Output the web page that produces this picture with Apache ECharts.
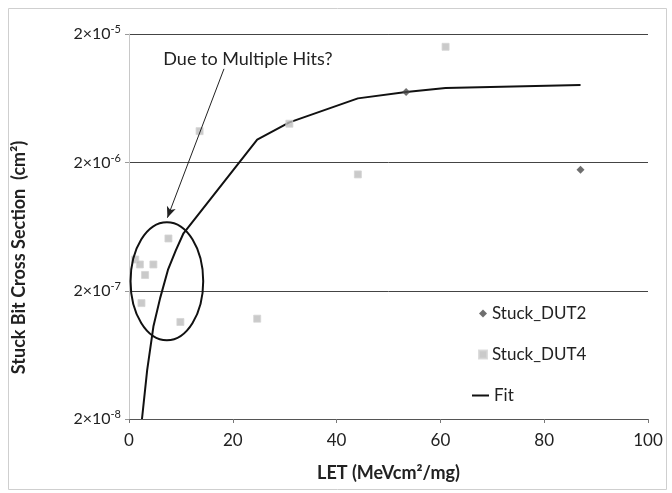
<!DOCTYPE html>
<html>
<head>
<meta charset="utf-8">
<script src="https://cdn.jsdelivr.net/npm/echarts@6/dist/echarts.min.js"></script>
<style>
  html, body { margin: 0; padding: 0; background: #fff; }
  #chart { width: 672px; height: 493px; }
</style>
</head>
<body>
<div id="chart"></div>
<script>
// LET values (MeV·cm²/mg) and stuck-bit cross sections (cm²)
const dut2Let = [53.4, 87.0];
const dut2Sigma = [7.06e-6, 1.75e-6];

const dut4Let = [61.0, 30.9, 44.1, 24.7, 13.6, 7.6, 1.2, 2.1, 4.7, 3.1, 2.4, 9.9];
const dut4Sigma = [1.59e-5, 4.0e-6, 1.61e-6, 1.21e-7, 3.5e-6, 5.1e-7, 3.5e-7, 3.2e-7, 3.2e-7, 2.65e-7, 1.6e-7, 1.14e-7];

const fitLet = [2.5, 3.5, 4.7, 6.0, 7.5, 9.0, 10.5, 24.7, 30.9, 44.1, 53.4, 61.0, 87.0];
const fitSigma = [2.0e-8, 4.8e-8, 1.05e-7, 1.75e-7, 2.9e-7, 4.1e-7, 5.6e-7, 3.0e-6, 4.1e-6, 6.3e-6, 7.06e-6, 7.6e-6, 8.0e-6];

const xTicks = [0, 20, 40, 60, 80, 100];
const yTicks = [2e-8, 2e-7, 2e-6, 2e-5];

// annotation: cluster ellipse and the arrow pointing at it (data coordinates)
const clusterCenter = [7.3, 2.37e-7];
const clusterHalfWidth = 7.0;        // LET units
const clusterHalfHeightDecades = 0.46;
const arrowFrom = [18.3, 1.07e-5];
const arrowTo = [7.4, 7.4e-7];
const noteText = 'Due to Multiple Hits?';

const FONT = 'Lato, "Open Sans", sans-serif';
const legendText = { fontFamily: FONT, fontSize: 17, color: '#222' };

const zip = (xs, ys) => xs.map((x, i) => [x, ys[i]]);

const chart = echarts.init(document.getElementById('chart'), null, { renderer: 'canvas' });

const option = {
  animation: false,
  backgroundColor: '#fff',
  grid: { left: 129, top: 34, right: 24, bottom: 74 },
  legend: [
    {
      // marker series
      orient: 'vertical',
      left: 478,
      top: 305,
      padding: 0,
      itemGap: 24,
      itemWidth: 8,
      itemHeight: 8,
      selectedMode: false,
      textStyle: legendText,
      data: [
        { name: 'Stuck_DUT2', icon: 'diamond' },
        { name: 'Stuck_DUT4', icon: 'rect' }
      ]
    },
    {
      // fitted curve
      orient: 'vertical',
      left: 472,
      top: 387,
      padding: 0,
      itemWidth: 17,
      itemHeight: 2,
      selectedMode: false,
      textStyle: legendText,
      data: [{ name: 'Fit', icon: 'rect', itemStyle: { color: '#111' } }]
    }
  ],
  xAxis: {
    type: 'value',
    min: xTicks[0],
    max: xTicks[xTicks.length - 1],
    interval: xTicks[1] - xTicks[0],
    name: 'LET (MeVcm²/mg)',
    nameLocation: 'middle',
    nameGap: 45,
    nameTextStyle: { fontFamily: FONT, fontSize: 18, fontWeight: 'bold', color: '#222' },
    axisLine: { show: true, lineStyle: { color: '#555', width: 1 } },
    axisTick: { show: true, length: 4, lineStyle: { color: '#777' } },
    axisLabel: { fontFamily: FONT, fontSize: 17, color: '#222', margin: 13 },
    splitLine: { show: false }
  },
  yAxis: {
    type: 'log',
    logBase: 10,
    min: yTicks[0],
    max: yTicks[yTicks.length - 1],
    interval: 1,
    name: 'Stuck Bit Cross Section  (cm²)',
    nameLocation: 'middle',
    nameGap: 101,
    nameTextStyle: { fontFamily: FONT, fontSize: 18, fontWeight: 'bold', color: '#222', padding: [0, 62, 0, 0] },
    axisLine: { show: true, lineStyle: { color: '#c8c8c8', width: 1 } },
    axisTick: { show: true, length: 4, lineStyle: { color: '#999' } },
    axisLabel: {
      margin: 8,
      formatter: function (v) {
        const exp = Math.round(Math.log10(v / 2));
        return '{b|2×10}{s|' + exp + '}';
      },
      rich: {
        b: { fontFamily: FONT, fontSize: 16, color: '#222', lineHeight: 20 },
        s: { fontFamily: FONT, fontSize: 11, color: '#222', lineHeight: 20, padding: [0, 0, 9, 0] }
      }
    },
    splitLine: { show: true, lineStyle: { color: '#444', width: 1 } }
  },
  series: [
    {
      name: 'Fit',
      type: 'line',
      data: zip(fitLet, fitSigma),
      showSymbol: false,
      symbol: 'none',
      lineStyle: { color: '#111', width: 2 },
      itemStyle: { color: '#111' },
      z: 3,
      markLine: {
        silent: true,
        symbol: ['none', 'arrow'],
        symbolSize: [7, 11],
        label: { show: false },
        lineStyle: { color: '#222', width: 1, type: 'solid' },
        data: [[{ coord: arrowFrom }, { coord: arrowTo }]]
      }
    },
    {
      name: 'Stuck_DUT2',
      type: 'scatter',
      data: zip(dut2Let, dut2Sigma),
      symbol: 'diamond',
      symbolSize: 8,
      symbolKeepAspect: true,
      itemStyle: { color: '#4a4a4a' },
      z: 4
    },
    {
      name: 'Stuck_DUT4',
      type: 'scatter',
      data: zip(dut4Let, dut4Sigma),
      symbol: 'rect',
      symbolSize: 7,
      symbolKeepAspect: true,
      itemStyle: { color: '#bdbdbd', borderColor: '#d4d4d4', borderWidth: 1 },
      z: 4
    }
  ]
};

chart.setOption(option);

// annotation ellipse, note text and outer frame, placed through the grid's coordinate system
function placeAnnotations() {
  const c = chart.convertToPixel({ gridIndex: 0 }, clusterCenter);
  const xr = chart.convertToPixel({ gridIndex: 0 }, [clusterCenter[0] + clusterHalfWidth, clusterCenter[1]]);
  const yt = chart.convertToPixel({ gridIndex: 0 }, [clusterCenter[0], clusterCenter[1] * Math.pow(10, clusterHalfHeightDecades)]);
  const a = chart.convertToPixel({ gridIndex: 0 }, arrowFrom);
  chart.setOption({
    graphic: [
      {
        type: 'rect',
        silent: true,
        shape: { x: 8.5, y: 8.5, width: 658, height: 481 },
        style: { fill: 'none', stroke: '#cfcfcf', lineWidth: 1 }
      },
      {
        type: 'ellipse',
        silent: true,
        z: 10,
        shape: { cx: c[0], cy: c[1], rx: xr[0] - c[0], ry: c[1] - yt[1] },
        style: { fill: 'none', stroke: '#111', lineWidth: 2 }
      },
      {
        type: 'text',
        silent: true,
        z: 10,
        x: a[0] + 24,
        y: a[1] - 10,
        style: {
          text: noteText,
          fontFamily: FONT,
          fontSize: 18,
          fill: '#222',
          align: 'center',
          verticalAlign: 'middle'
        }
      }
    ]
  });
}
placeAnnotations();
</script>
</body>
</html>
